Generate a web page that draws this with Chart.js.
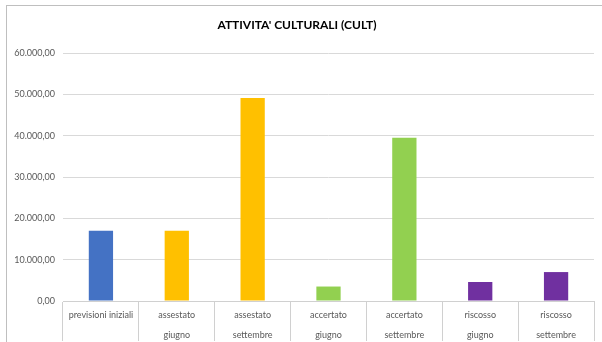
<!DOCTYPE html>
<html>
<head>
<meta charset="utf-8">
<script src="https://cdn.jsdelivr.net/npm/chart.js@4.4.0/dist/chart.umd.min.js"></script>
<style>
  html, body { margin: 0; padding: 0; background: #fff; }
  #wrap { position: relative; width: 602px; height: 342px; overflow: hidden; }
  #frame { position: absolute; left: 6px; top: 5px; width: 640px; height: 400px; border: 1px solid #bfbfbf; box-sizing: border-box; }
  canvas { position: absolute; left: 0; top: 0; }
</style>
</head>
<body>
<div id="wrap">
  <div id="frame"></div>
  <canvas id="chart" width="602" height="342"></canvas>
</div>
<script>
// Categories (multi-line labels as shown under the axis)
const categories = [
  'previsioni iniziali',
  ['assestato', 'giugno'],
  ['assestato', 'settembre'],
  ['accertato', 'giugno'],
  ['accertato', 'settembre'],
  ['riscosso', 'giugno'],
  ['riscosso', 'settembre']
];

// Values
const values = [17000, 17000, 49100, 3500, 39500, 4600, 7000];

// Bar colours per category
const barColors = ['#4472C4', '#FFC000', '#FFC000', '#92D050', '#92D050', '#7030A0', '#7030A0'];

const yTicks = { min: 0, max: 60000, step: 10000 };

function formatIt(v) {
  return v.toLocaleString('it-IT', { minimumFractionDigits: 2, maximumFractionDigits: 2, useGrouping: true })
    .replace(/\u00a0/g, '.');
}

const ctx = document.getElementById('chart').getContext('2d');

new Chart(ctx, {
  type: 'bar',
  data: {
    labels: categories,
    datasets: [{
      data: values,
      backgroundColor: barColors,
      borderWidth: 0,
      barPercentage: 0.32,
      categoryPercentage: 1
    }]
  },
  options: {
    responsive: false,
    animation: false,
    layout: { padding: { left: 0, right: 8, top: 0, bottom: 0 } },
    plugins: {
      legend: { display: false },
      tooltip: { enabled: false },
      title: {
        display: true,
        text: "ATTIVITA' CULTURALI (CULT)",
        color: '#000',
        font: { family: 'Lato', size: 12, weight: 'bold' },
        padding: { top: 18, bottom: 20.6 }
      }
    },
    scales: {
      x: {
        grid: {
          offset: true,
          drawOnChartArea: false,
          drawTicks: true,
          tickLength: 40,
          color: '#d0d0d0'
        },
        border: { display: true, color: '#d0d0d0' },
        ticks: {
          color: '#595959',
          font: { family: 'Lato', size: 9, lineHeight: 2.2 },
          padding: -36,
          maxRotation: 0,
          autoSkip: false
        },
        afterFit: (scale) => { scale.height = 41; }
      },
      y: {
        min: yTicks.min,
        max: yTicks.max,
        grid: { color: '#d9d9d9', drawTicks: false },
        border: { display: false },
        ticks: {
          stepSize: yTicks.step,
          color: '#595959',
          font: { family: 'Lato', size: 9 },
          padding: 8,
          callback: (v) => formatIt(v)
        },
        afterFit: (scale) => { scale.width = 63; }
      }
    }
  }
});
</script>
</body>
</html>
